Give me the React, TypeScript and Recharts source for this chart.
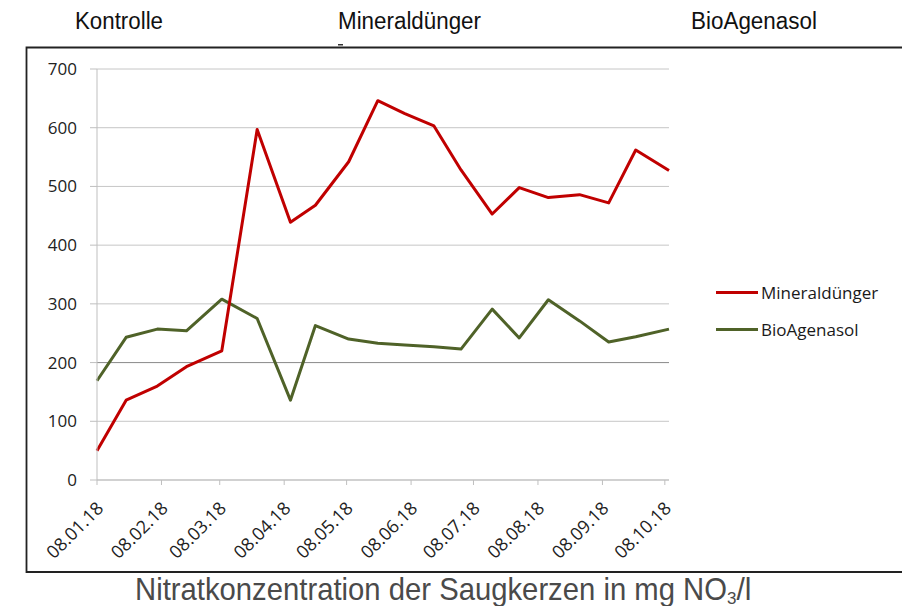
// Nitrate concentration in suction cups, two fertiliser variants over 2018.

import * as React from 'react';
import { CartesianGrid, Line, LineChart, ReferenceLine, XAxis, YAxis } from 'recharts';

const sampleDates = [
  '2018-01-08', '2018-01-22', '2018-02-06', '2018-02-20', '2018-03-09',
  '2018-03-26', '2018-04-11', '2018-04-23', '2018-05-09', '2018-05-23',
  '2018-06-05', '2018-06-19', '2018-07-02', '2018-07-17', '2018-07-30',
  '2018-08-13', '2018-08-28', '2018-09-11', '2018-09-24', '2018-10-10',
];

const mineraldunger = [
  50, 136, 160, 193, 220, 597, 439, 468, 542, 646,
  624, 603, 528, 453, 498, 481, 486, 472, 562, 527,
];

const bioAgenasol = [
  169, 243, 257, 254, 308, 275, 136, 263, 240, 233,
  230, 227, 223, 291, 242, 307, 271, 235, 244, 257,
];

const xTickLabels = [
  '08.01.18', '08.02.18', '08.03.18', '08.04.18', '08.05.18',
  '08.06.18', '08.07.18', '08.08.18', '08.09.18', '08.10.18',
];

const yTicks = [0, 100, 200, 300, 400, 500, 600, 700];

const headers = [
  { text: 'Kontrolle', x: 75, width: 88 },
  { text: 'Mineraldünger', x: 338, width: 143 },
  { text: 'BioAgenasol', x: 691, width: 126 },
];

const seriesNames = ['Mineraldünger', 'BioAgenasol'];

const RED = '#c00000';
const GREEN = '#4f6228';
const DAY = 86400000;
const start = Date.UTC(2018, 0, 8);

const dayOf = (iso: string) => {
  const [y, m, d] = iso.split('-').map(Number);
  return Math.round((Date.UTC(y, m - 1, d) - start) / DAY);
};

const labelDay = (label: string) => {
  const [d, m, y] = label.split('.').map(Number);
  return Math.round((Date.UTC(2000 + y, m - 1, d) - start) / DAY);
};

const data = sampleDates.map((date, i) => ({
  day: dayOf(date),
  mineral: mineraldunger[i],
  bio: bioAgenasol[i],
}));

const xTicks = xTickLabels.map(labelDay);
const labelByDay = new Map(xTicks.map((d, i) => [d, xTickLabels[i]]));

const font = '"Open Sans", "DejaVu Sans", sans-serif';
const headFont = '"Liberation Sans", Arial, sans-serif';

function DateTick(props: any) {
  const { x, y, payload } = props;
  return (
    <g transform={`translate(${x + 3},${y + 18}) rotate(-45)`}>
      <text x={0} y={0} dy='0.35em' textAnchor='end' fontSize={18} fontFamily={font} fill='#222'>
        {labelByDay.get(payload.value)}
      </text>
    </g>
  );
}

function LegendBox() {
  const colors = [RED, GREEN];
  return (
    <div style={{ position: 'absolute', left: 716, top: 274, fontFamily: font, fontSize: 17, color: '#1a1a1a' }}>
      {seriesNames.map((name, i) => (
        <div key={name} style={{ display: 'flex', alignItems: 'center', height: 37 }}>
          <span style={{ width: 42, height: 3, background: colors[i], marginRight: 3 }} />
          <span>{name}</span>
        </div>
      ))}
    </div>
  );
}

export default function App() {
  return (
    <div style={{ position: 'absolute', left: 0, top: 0, width: 902, height: 606, background: '#fff', overflow: 'hidden' }}>
      <svg width={902} height={606} style={{ position: 'absolute', left: 0, top: 0 }}>
        {headers.map((h) => (
          <text
            key={h.text}
            x={h.x}
            y={29}
            fontSize={23}
            fontFamily={headFont}
            fill='#111'
            textLength={h.width}
            lengthAdjust='spacingAndGlyphs'
          >
            {h.text}
          </text>
        ))}
        <rect x={338} y={44} width={5} height={1.5} fill='#333' />
        <path d='M 902 47.5 L 26.5 47.5 L 26.5 572 L 902 572' fill='none' stroke='#222' strokeWidth={1.8} />
        <text x={135} y={600} fontSize={32} fontFamily={headFont} fill='#4a4a4a'>
          <tspan textLength={592} lengthAdjust='spacingAndGlyphs'>Nitratkonzentration der Saugkerzen in mg NO</tspan>
          <tspan dy={4} fontSize={17}>3</tspan>
          <tspan dy={-4} textLength={15} lengthAdjust='spacingAndGlyphs'>/l</tspan>
        </text>
      </svg>
      <div style={{ position: 'absolute', left: 0, top: 0 }}>
        <LineChart width={902} height={606} data={data} margin={{ top: 69, right: 233, bottom: 66, left: 57 }}>
          <CartesianGrid vertical={false} stroke='#c6c6c6' />
          <ReferenceLine y={200} stroke='#8f8f8f' />
          <XAxis
            dataKey='day'
            type='number'
            domain={[0, 275]}
            ticks={xTicks}
            interval={0}
            height={60}
            tick={<DateTick />}
            tickSize={5}
            stroke='#bfbfbf'
            tickLine={{ stroke: '#bfbfbf' }}
          />
          <YAxis
            width={40}
            domain={[0, 700]}
            ticks={yTicks}
            tickSize={7}
            tickMargin={13}
            stroke='#bfbfbf'
            tick={{ fontSize: 17, fontFamily: font, fill: '#222' }}
          />
          <Line
            type='linear'
            dataKey='bio'
            name={seriesNames[1]}
            stroke={GREEN}
            strokeWidth={3}
            dot={false}
            strokeLinejoin='round'
            isAnimationActive={false}
          />
          <Line
            type='linear'
            dataKey='mineral'
            name={seriesNames[0]}
            stroke={RED}
            strokeWidth={3}
            dot={false}
            strokeLinejoin='round'
            isAnimationActive={false}
          />
        </LineChart>
      </div>
      <LegendBox />
    </div>
  );
}
